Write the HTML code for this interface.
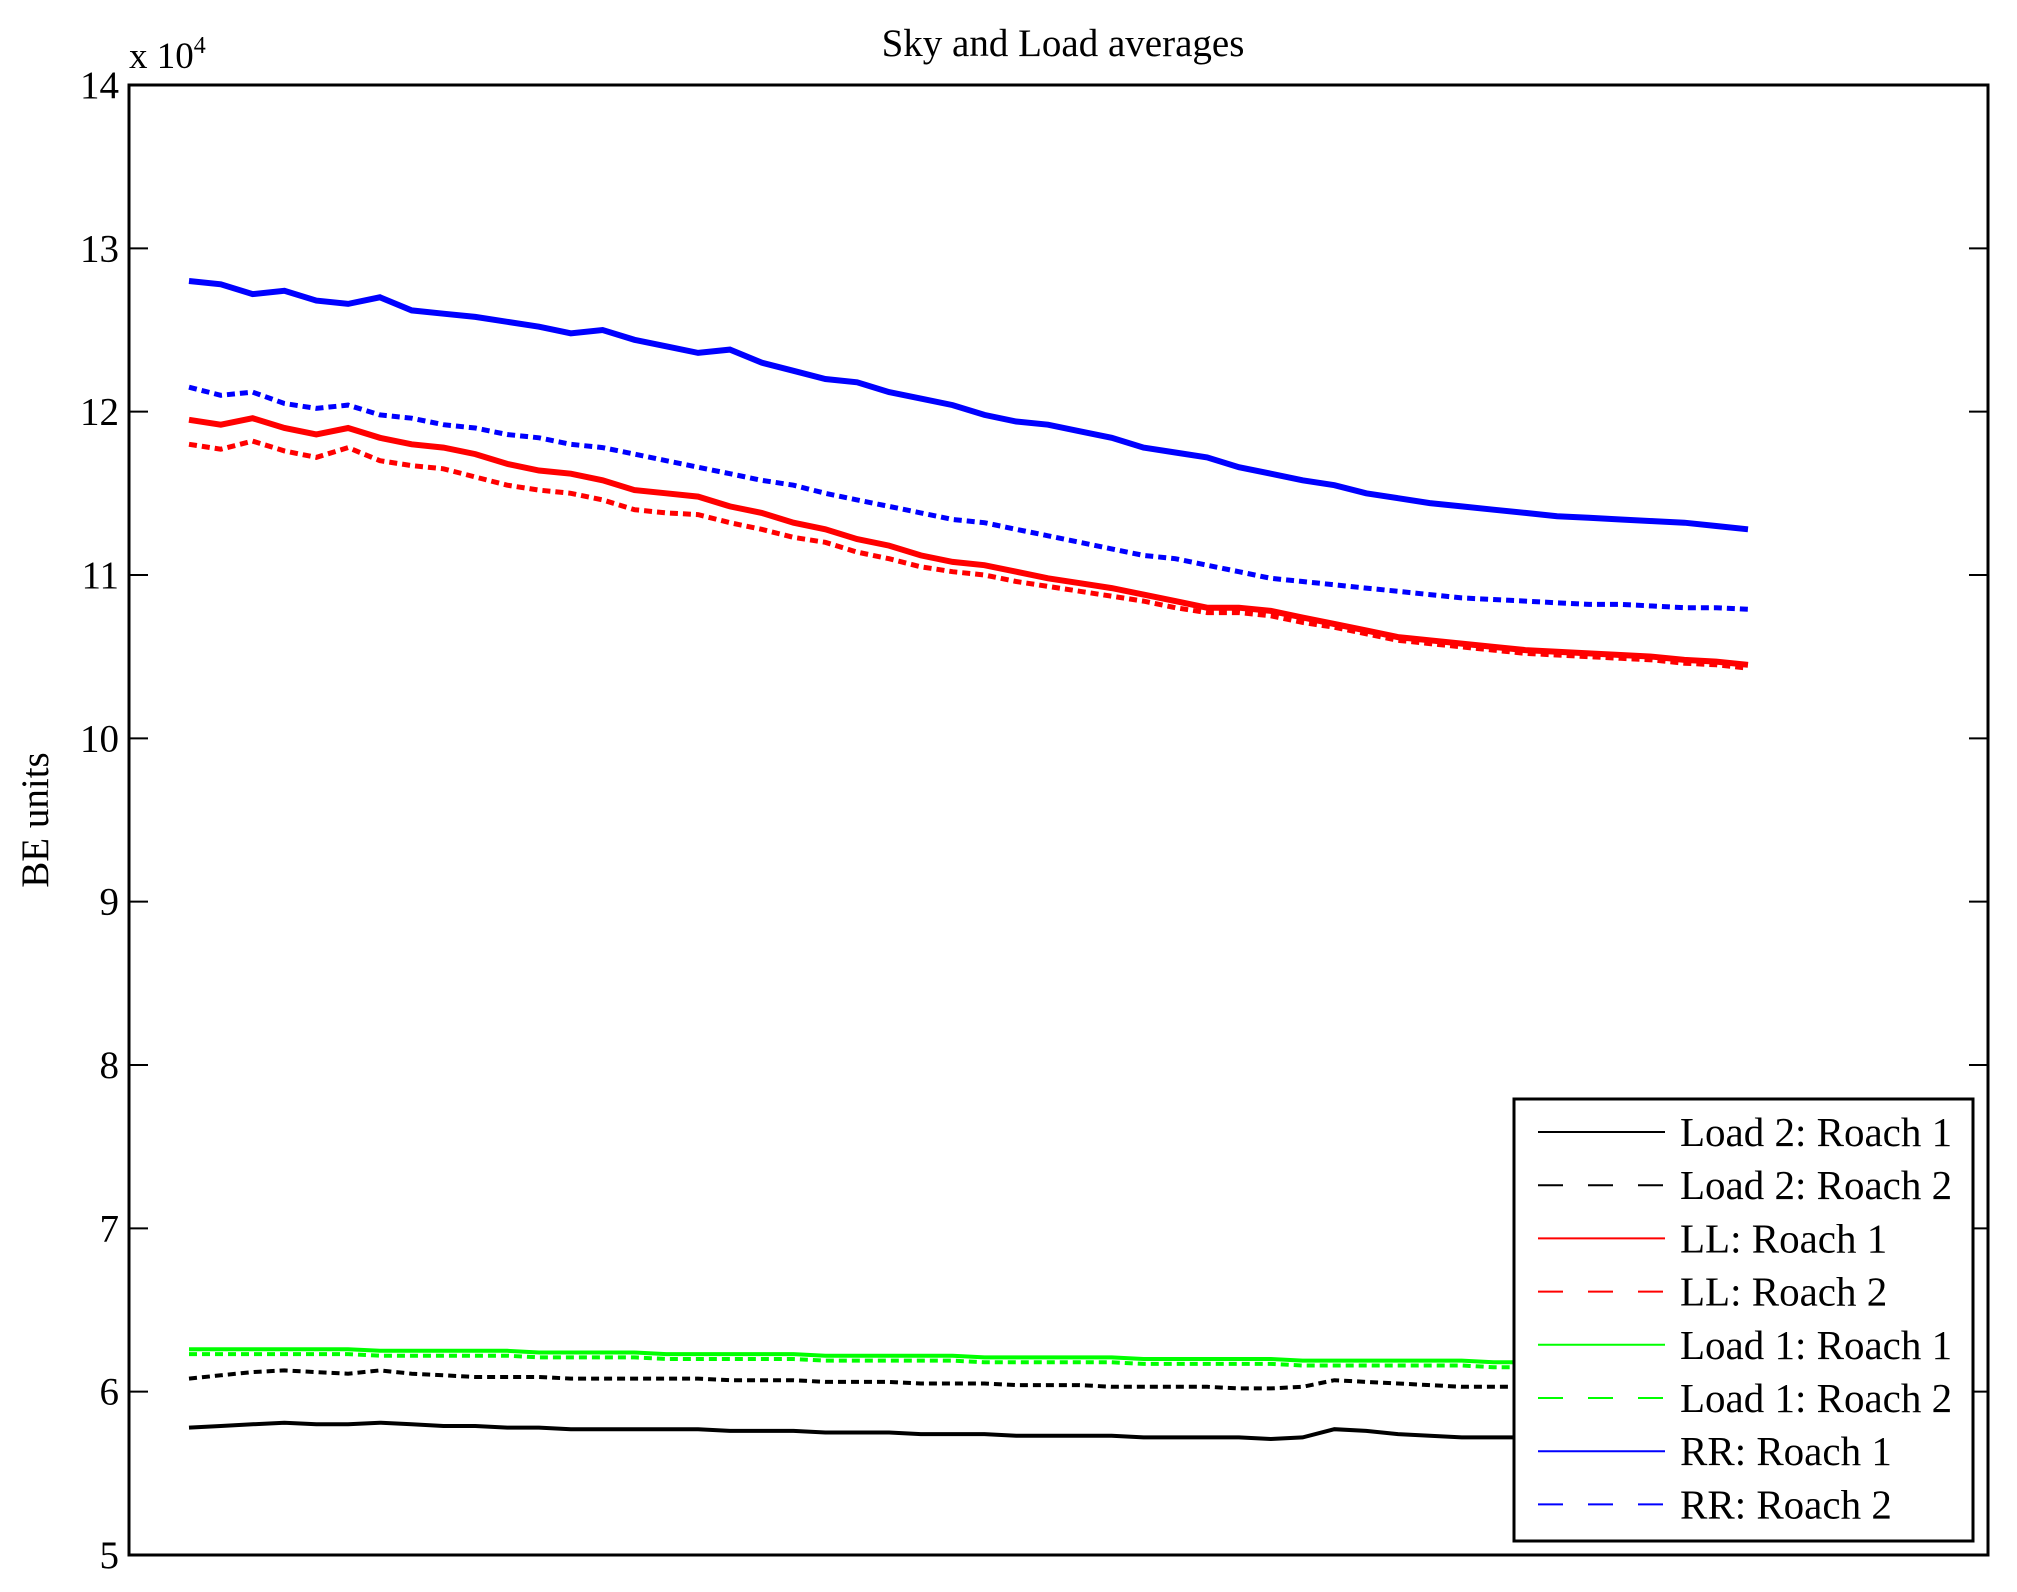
<!DOCTYPE html>
<html><head><meta charset="utf-8"><style>
html,body{margin:0;padding:0;background:#fff}
svg{display:block;font-family:"Liberation Serif",serif}
</style></head><body>
<svg id="chart" width="2017" height="1592" viewBox="0 0 2017 1592" xmlns="http://www.w3.org/2000/svg">
<text x="1063" y="56" font-size="39" text-anchor="middle">Sky and Load averages</text>
<text x="129" y="68" font-size="37">x 10<tspan font-size="24" dy="-15">4</tspan></text>
<text transform="translate(48,820) rotate(-90)" font-size="39" text-anchor="middle">BE units</text>
<g id="ticks"></g>
<g id="series"></g>
<rect x="129" y="85" width="1859" height="1470" fill="none" stroke="#000" stroke-width="3"/>
<g id="legend"></g>
</svg>
<script>
const yTicks=[5,6,7,8,9,10,11,12,13,14];
const rr1=[12.8,12.78,12.72,12.74,12.68,12.66,12.70,12.62,12.60,12.58,12.55,12.52,12.48,12.50,12.44,12.40,12.36,12.38,12.30,12.25,12.20,12.18,12.12,12.08,12.04,11.98,11.94,11.92,11.88,11.84,11.78,11.75,11.72,11.66,11.62,11.58,11.55,11.50,11.47,11.44,11.42,11.40,11.38,11.36,11.35,11.34,11.33,11.32,11.30,11.28];
const rr2=[12.15,12.10,12.12,12.05,12.02,12.04,11.98,11.96,11.92,11.90,11.86,11.84,11.80,11.78,11.74,11.70,11.66,11.62,11.58,11.55,11.50,11.46,11.42,11.38,11.34,11.32,11.28,11.24,11.20,11.16,11.12,11.10,11.06,11.02,10.98,10.96,10.94,10.92,10.90,10.88,10.86,10.85,10.84,10.83,10.82,10.82,10.81,10.80,10.80,10.79];
const ll1=[11.95,11.92,11.96,11.90,11.86,11.90,11.84,11.80,11.78,11.74,11.68,11.64,11.62,11.58,11.52,11.50,11.48,11.42,11.38,11.32,11.28,11.22,11.18,11.12,11.08,11.06,11.02,10.98,10.95,10.92,10.88,10.84,10.80,10.80,10.78,10.74,10.70,10.66,10.62,10.60,10.58,10.56,10.54,10.53,10.52,10.51,10.50,10.48,10.47,10.45];
const ll2=[11.80,11.77,11.82,11.76,11.72,11.78,11.70,11.67,11.65,11.60,11.55,11.52,11.50,11.46,11.40,11.38,11.37,11.32,11.28,11.23,11.20,11.14,11.10,11.05,11.02,11.00,10.96,10.93,10.90,10.87,10.84,10.80,10.77,10.77,10.75,10.71,10.68,10.64,10.60,10.58,10.56,10.54,10.52,10.51,10.50,10.49,10.48,10.46,10.45,10.43];
const load1r1=[6.26,6.26,6.26,6.26,6.26,6.26,6.25,6.25,6.25,6.25,6.25,6.24,6.24,6.24,6.24,6.23,6.23,6.23,6.23,6.23,6.22,6.22,6.22,6.22,6.22,6.21,6.21,6.21,6.21,6.21,6.20,6.20,6.20,6.20,6.20,6.19,6.19,6.19,6.19,6.19,6.19,6.18,6.18,6.18,6.18,6.18,6.18,6.18,6.18,6.18];
const load1r2=[6.23,6.23,6.23,6.23,6.23,6.23,6.22,6.22,6.22,6.22,6.22,6.21,6.21,6.21,6.21,6.20,6.20,6.20,6.20,6.20,6.19,6.19,6.19,6.19,6.19,6.18,6.18,6.18,6.18,6.18,6.17,6.17,6.17,6.17,6.17,6.16,6.16,6.16,6.16,6.16,6.16,6.15,6.15,6.15,6.15,6.15,6.15,6.15,6.15,6.15];
const load2r1=[5.78,5.79,5.80,5.81,5.80,5.80,5.81,5.80,5.79,5.79,5.78,5.78,5.77,5.77,5.77,5.77,5.77,5.76,5.76,5.76,5.75,5.75,5.75,5.74,5.74,5.74,5.73,5.73,5.73,5.73,5.72,5.72,5.72,5.72,5.71,5.72,5.77,5.76,5.74,5.73,5.72,5.72,5.72,5.71,5.71,5.71,5.71,5.71,5.71,5.71];
const load2r2=[6.08,6.10,6.12,6.13,6.12,6.11,6.13,6.11,6.10,6.09,6.09,6.09,6.08,6.08,6.08,6.08,6.08,6.07,6.07,6.07,6.06,6.06,6.06,6.05,6.05,6.05,6.04,6.04,6.04,6.03,6.03,6.03,6.03,6.02,6.02,6.03,6.07,6.06,6.05,6.04,6.03,6.03,6.03,6.02,6.02,6.02,6.02,6.02,6.02,6.02];
const legendLabels=["Load 2: Roach 1","Load 2: Roach 2","LL: Roach 1","LL: Roach 2","Load 1: Roach 1","Load 1: Roach 2","RR: Roach 1","RR: Roach 2"];

const NS="http://www.w3.org/2000/svg";
const y=v=>85+(14-v)*(1470/9);
const x=(i,n)=>189+i*(1748-189)/(n-1);
function mk(tag,attrs,parent){const e=document.createElementNS(NS,tag);for(const k in attrs)e.setAttribute(k,attrs[k]);parent.appendChild(e);return e;}
const tg=document.getElementById('ticks');
yTicks.forEach(t=>{
  const l=mk('text',{x:119,y:y(t)+13,'font-size':39,'text-anchor':'end'},tg);
  
  
  l.textContent=t;
  const a=mk('line',{x1:129,x2:148,y1:y(t),y2:y(t),stroke:'#000','stroke-width':2},tg);
  
  
  const b=mk('line',{x1:1969,x2:1988,y1:y(t),y2:y(t),stroke:'#000','stroke-width':2},tg);
  
  
});
const series=[
 {d:load2r1,c:'#000',dash:null,n:'load2-roach1-line',w:4},
 {d:load2r2,c:'#000',dash:'8,5',n:'load2-roach2-line',w:4},
 {d:ll1,c:'#f00',dash:null,n:'ll-roach1-line',w:6},
 {d:ll2,c:'#f00',dash:'8,5',n:'ll-roach2-line',w:5},
 {d:load1r1,c:'#0f0',dash:null,n:'load1-roach1-line',w:4},
 {d:load1r2,c:'#0f0',dash:'8,5',n:'load1-roach2-line',w:4},
 {d:rr1,c:'#00f',dash:null,n:'rr-roach1-line',w:6},
 {d:rr2,c:'#00f',dash:'8,5',n:'rr-roach2-line',w:5}];
const sg=document.getElementById('series');
series.forEach(s=>{
  const pts=s.d.map((v,i)=>x(i,s.d.length).toFixed(1)+','+y(v).toFixed(1)).join(' ');
  const attrs={points:pts,fill:'none',stroke:s.c,'stroke-width':s.w};
  if(s.dash)attrs['stroke-dasharray']=s.dash;
  const p=mk('polyline',attrs,sg);
  
  
});
const lg=document.getElementById('legend');
const box=mk('rect',{x:1514,y:1099,width:459,height:442,fill:'#fff',stroke:'#000','stroke-width':3},lg);


legendLabels.forEach((lab,i)=>{
  const yy=1132+i*53.2;
  const s=series[i];
  const la={x1:1538,x2:1665,y1:yy,y2:yy,stroke:s.c,'stroke-width':2};
  if(s.dash)la['stroke-dasharray']='25,25';
  const ln=mk('line',la,lg);
  
  
  const t=mk('text',{x:1680,y:yy+14,'font-size':41},lg);
  
  
  t.textContent=lab;
});
</script>
</body></html>
